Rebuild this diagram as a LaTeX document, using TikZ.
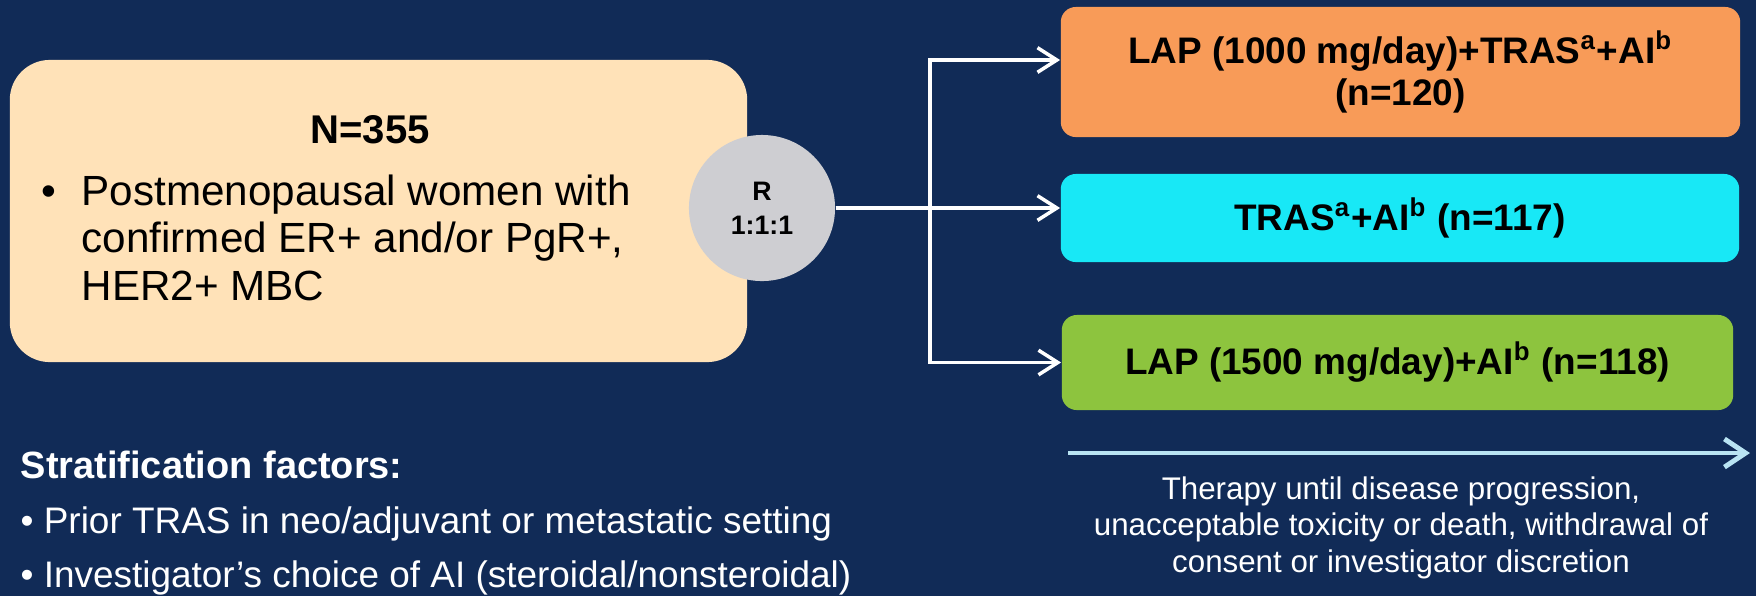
\documentclass[tikz,border=0pt]{standalone}
\usepackage{fontspec}
\setmainfont{Liberation Sans}
\usetikzlibrary{arrows.meta}

\definecolor{navy}{RGB}{17,43,87}
\definecolor{peach}{RGB}{255,226,184}
\definecolor{randgray}{RGB}{206,206,210}
\definecolor{armorange}{RGB}{248,155,88}
\definecolor{armcyan}{RGB}{24,232,246}
\definecolor{armgreen}{RGB}{141,196,62}
\definecolor{timeblue}{RGB}{185,228,243}

\begin{document}
\begin{tikzpicture}[x=0.01cm, y=-0.01cm,
    armbox/.style={rectangle, rounded corners=0.15cm, inner sep=0pt, align=center,
      font=\bfseries\fontsize{10.5}{12.2}\selectfont},
    link/.style={draw=white, line width=1pt, -{Straight Barb[length=5.5pt, width=7pt]}},
    whitetext/.style={text=white, inner sep=0pt}
  ]
    % Slide background
    \useasboundingbox (0,0) rectangle (1756,596);
    \fill[navy] (0,0) rectangle (1756,596);

    % Study population
    \node[rectangle, rounded corners=0.4cm, fill=peach, minimum width=7.37cm, minimum height=3.02cm] (pop) at (378.5,211) {};
    \node[font=\bfseries\fontsize{11.4}{13}\selectfont, anchor=base, inner sep=0pt] (nsize) at (370,143) {N=355};
    \node[font=\fontsize{12}{13.5}\selectfont, align=left, anchor=north west, inner sep=0pt] (elig) at (41,174)
      {\makebox[0.4cm][l]{\textbullet}Postmenopausal women with\\
       \hspace*{0.4cm}confirmed ER+ and/or PgR+,\\
       \hspace*{0.4cm}HER2+ MBC};

    % Randomisation
    \node[circle, fill=randgray, minimum size=1.46cm, inner sep=0pt, align=center,
      font=\bfseries\fontsize{7.6}{9.6}\selectfont] (rand) at (762,208) {R\\1:1:1};

    % Treatment arms
    \node[armbox, fill=armorange, minimum width=6.79cm, minimum height=1.30cm] (lapTras) at (1400.5,72)
      {LAP (1000 mg/day)+TRAS\textsuperscript{a}+AI\textsuperscript{b}\\(n=120)};
    \node[armbox, fill=armcyan, minimum width=6.78cm, minimum height=0.88cm] (tras) at (1400,218)
      {TRAS\textsuperscript{a}+AI\textsuperscript{b} (n=117)};
    \node[armbox, fill=armgreen, minimum width=6.71cm, minimum height=0.95cm] (lapAi) at (1397.5,362.5)
      {LAP (1500 mg/day)+AI\textsuperscript{b} (n=118)};

    % Arrows to the arms
    \coordinate (fork) at (930,208);
    \draw[link] (rand.east) -- (rand.east -| tras.west);
    \draw[link] (fork) |- ([yshift=0.12cm]lapTras.west);
    \draw[link] (fork) |- (lapAi.west);

    % Stratification
    \node[whitetext, font=\bfseries\fontsize{10.8}{13}\selectfont, anchor=base west] (strat) at (20,478) {Stratification factors:};
    \node[whitetext, font=\fontsize{10.5}{15.5}\selectfont, align=left, anchor=north west] (stratlist) at (20,506)
      {\textbullet{} Prior TRAS in neo/adjuvant or metastatic setting\\
       \textbullet{} Investigator’s choice of AI (steroidal/nonsteroidal)};

    % Treatment duration
    \coordinate (tstart) at (1068,453);
    \coordinate (tend) at (1750,453);
    \draw[timeblue, line width=1.4pt, -{Straight Barb[length=6pt, width=8pt]}] (tstart) -- (tend);
    \node[whitetext, font=\fontsize{8.9}{10.4}\selectfont, align=center, anchor=north] (until) at (1401,476)
      {Therapy until disease progression,\\
       unacceptable toxicity or death, withdrawal of\\
       consent or investigator discretion};
\end{tikzpicture}
\end{document}
